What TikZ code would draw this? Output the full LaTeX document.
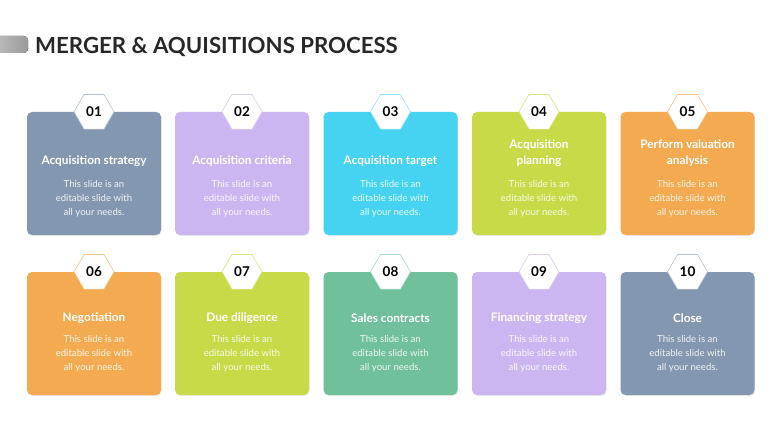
\documentclass[tikz,border=0pt]{standalone}
\usepackage{fontspec}
\setmainfont{Lato}
\usepackage{xcolor}
\usetikzlibrary{shapes.geometric,shadows,positioning}
\definecolor{SlateBlue}{RGB}{132,151,176}
\definecolor{Lavender}{RGB}{203,182,242}
\definecolor{SkyCyan}{RGB}{70,211,241}
\definecolor{LimeGreen}{RGB}{200,218,72}
\definecolor{SoftOrange}{RGB}{244,170,80}
\definecolor{SeaGreen}{RGB}{112,192,156}
\definecolor{TitleGrey}{RGB}{40,40,40}
\newcommand{\slidetxt}{This slide is an\\editable slide with\\all your needs.}
\tikzset{
  card/.style={rounded corners=5pt, minimum width=134pt, minimum height=123pt, inner sep=0pt,
    drop shadow={opacity=0.15, shadow xshift=0.6pt, shadow yshift=-0.9pt}},
  hexnum/.style={regular polygon, regular polygon sides=6, minimum size=40pt, inner sep=0pt,
    fill=white, line width=0.6pt, font=\fontsize{13.5}{13.5}\selectfont\bfseries, text=black},
  cardhead/.style={text=white, font=\fontsize{11.8}{16}\selectfont\bfseries, align=center},
  cardbody/.style={font=\fontsize{9.6}{14}\selectfont, align=center},
  titletxt/.style={anchor=base west, inner sep=0pt, text=TitleGrey, font=\fontsize{22.2}{22}\selectfont\bfseries},
}
\begin{document}
\begin{tikzpicture}[x=1pt, y=-1pt]
  \useasboundingbox[fill=white] (0,0) rectangle (768,433);
  % title
  \fill[left color=gray!50, right color=gray!80, rounded corners=4pt] (-6,36) rectangle (28,53);
  \node[titletxt] (title) at (35,53.5) {MERGER \& AQUISITIONS PROCESS};
  % row 1
  \node[card, fill=SlateBlue] (card1) at (94,173.5) {};
  \node[card, fill=Lavender] (card2) at (242,173.5) {};
  \node[card, fill=SkyCyan] (card3) at (390.5,173.5) {};
  \node[card, fill=LimeGreen] (card4) at (539,173.5) {};
  \node[card, fill=SoftOrange] (card5) at (687.5,173.5) {};
  \node[hexnum, draw=SlateBlue!60] (hex1) at (card1.north) {01};
  \node[hexnum, draw=Lavender!70] (hex2) at (card2.north) {02};
  \node[hexnum, draw=SkyCyan!60] (hex3) at (card3.north) {03};
  \node[hexnum, draw=LimeGreen!70] (hex4) at (card4.north) {04};
  \node[hexnum, draw=SoftOrange!70] (hex5) at (card5.north) {05};
  \node[cardhead] (head1) at (94,161.5) {Acquisition strategy};
  \node[cardhead] (head2) at (242,161.5) {Acquisition criteria};
  \node[cardhead] (head3) at (390.5,161.5) {Acquisition target};
  \node[cardhead] (head4) at (539,153.5) {Acquisition\\planning};
  \node[cardhead] (head5) at (687.5,153.5) {Perform valuation\\analysis};
  \node[cardbody, text=white!88!SlateBlue] (body1) at (94,199) {\slidetxt};
  \node[cardbody, text=white!88!Lavender] (body2) at (242,199) {\slidetxt};
  \node[cardbody, text=white!88!SkyCyan] (body3) at (390.5,199) {\slidetxt};
  \node[cardbody, text=white!88!LimeGreen] (body4) at (539,199) {\slidetxt};
  \node[cardbody, text=white!88!SoftOrange] (body5) at (687.5,199) {\slidetxt};
  % row 2
  \node[card, fill=SoftOrange] (card6) at (94,333.5) {};
  \node[card, fill=LimeGreen] (card7) at (242,333.5) {};
  \node[card, fill=SeaGreen] (card8) at (390.5,333.5) {};
  \node[card, fill=Lavender] (card9) at (539,333.5) {};
  \node[card, fill=SlateBlue] (card10) at (687.5,333.5) {};
  \node[hexnum, draw=SoftOrange!70] (hex6) at (card6.north) {06};
  \node[hexnum, draw=LimeGreen!70] (hex7) at (card7.north) {07};
  \node[hexnum, draw=SeaGreen!60] (hex8) at (card8.north) {08};
  \node[hexnum, draw=Lavender!70] (hex9) at (card9.north) {09};
  \node[hexnum, draw=SlateBlue!60] (hex10) at (card10.north) {10};
  \node[cardhead] (head6) at (94,318.5) {Negotiation};
  \node[cardhead] (head7) at (242,318.5) {Due diligence};
  \node[cardhead] (head8) at (390.5,318.5) {Sales contracts};
  \node[cardhead] (head9) at (539,318.5) {Financing strategy};
  \node[cardhead] (head10) at (687.5,318.5) {Close};
  \node[cardbody, text=white!88!SoftOrange] (body6) at (94,354) {\slidetxt};
  \node[cardbody, text=white!88!LimeGreen] (body7) at (242,354) {\slidetxt};
  \node[cardbody, text=white!88!SeaGreen] (body8) at (390.5,354) {\slidetxt};
  \node[cardbody, text=white!88!Lavender] (body9) at (539,354) {\slidetxt};
  \node[cardbody, text=white!88!SlateBlue] (body10) at (687.5,354) {\slidetxt};
\end{tikzpicture}
\end{document}
